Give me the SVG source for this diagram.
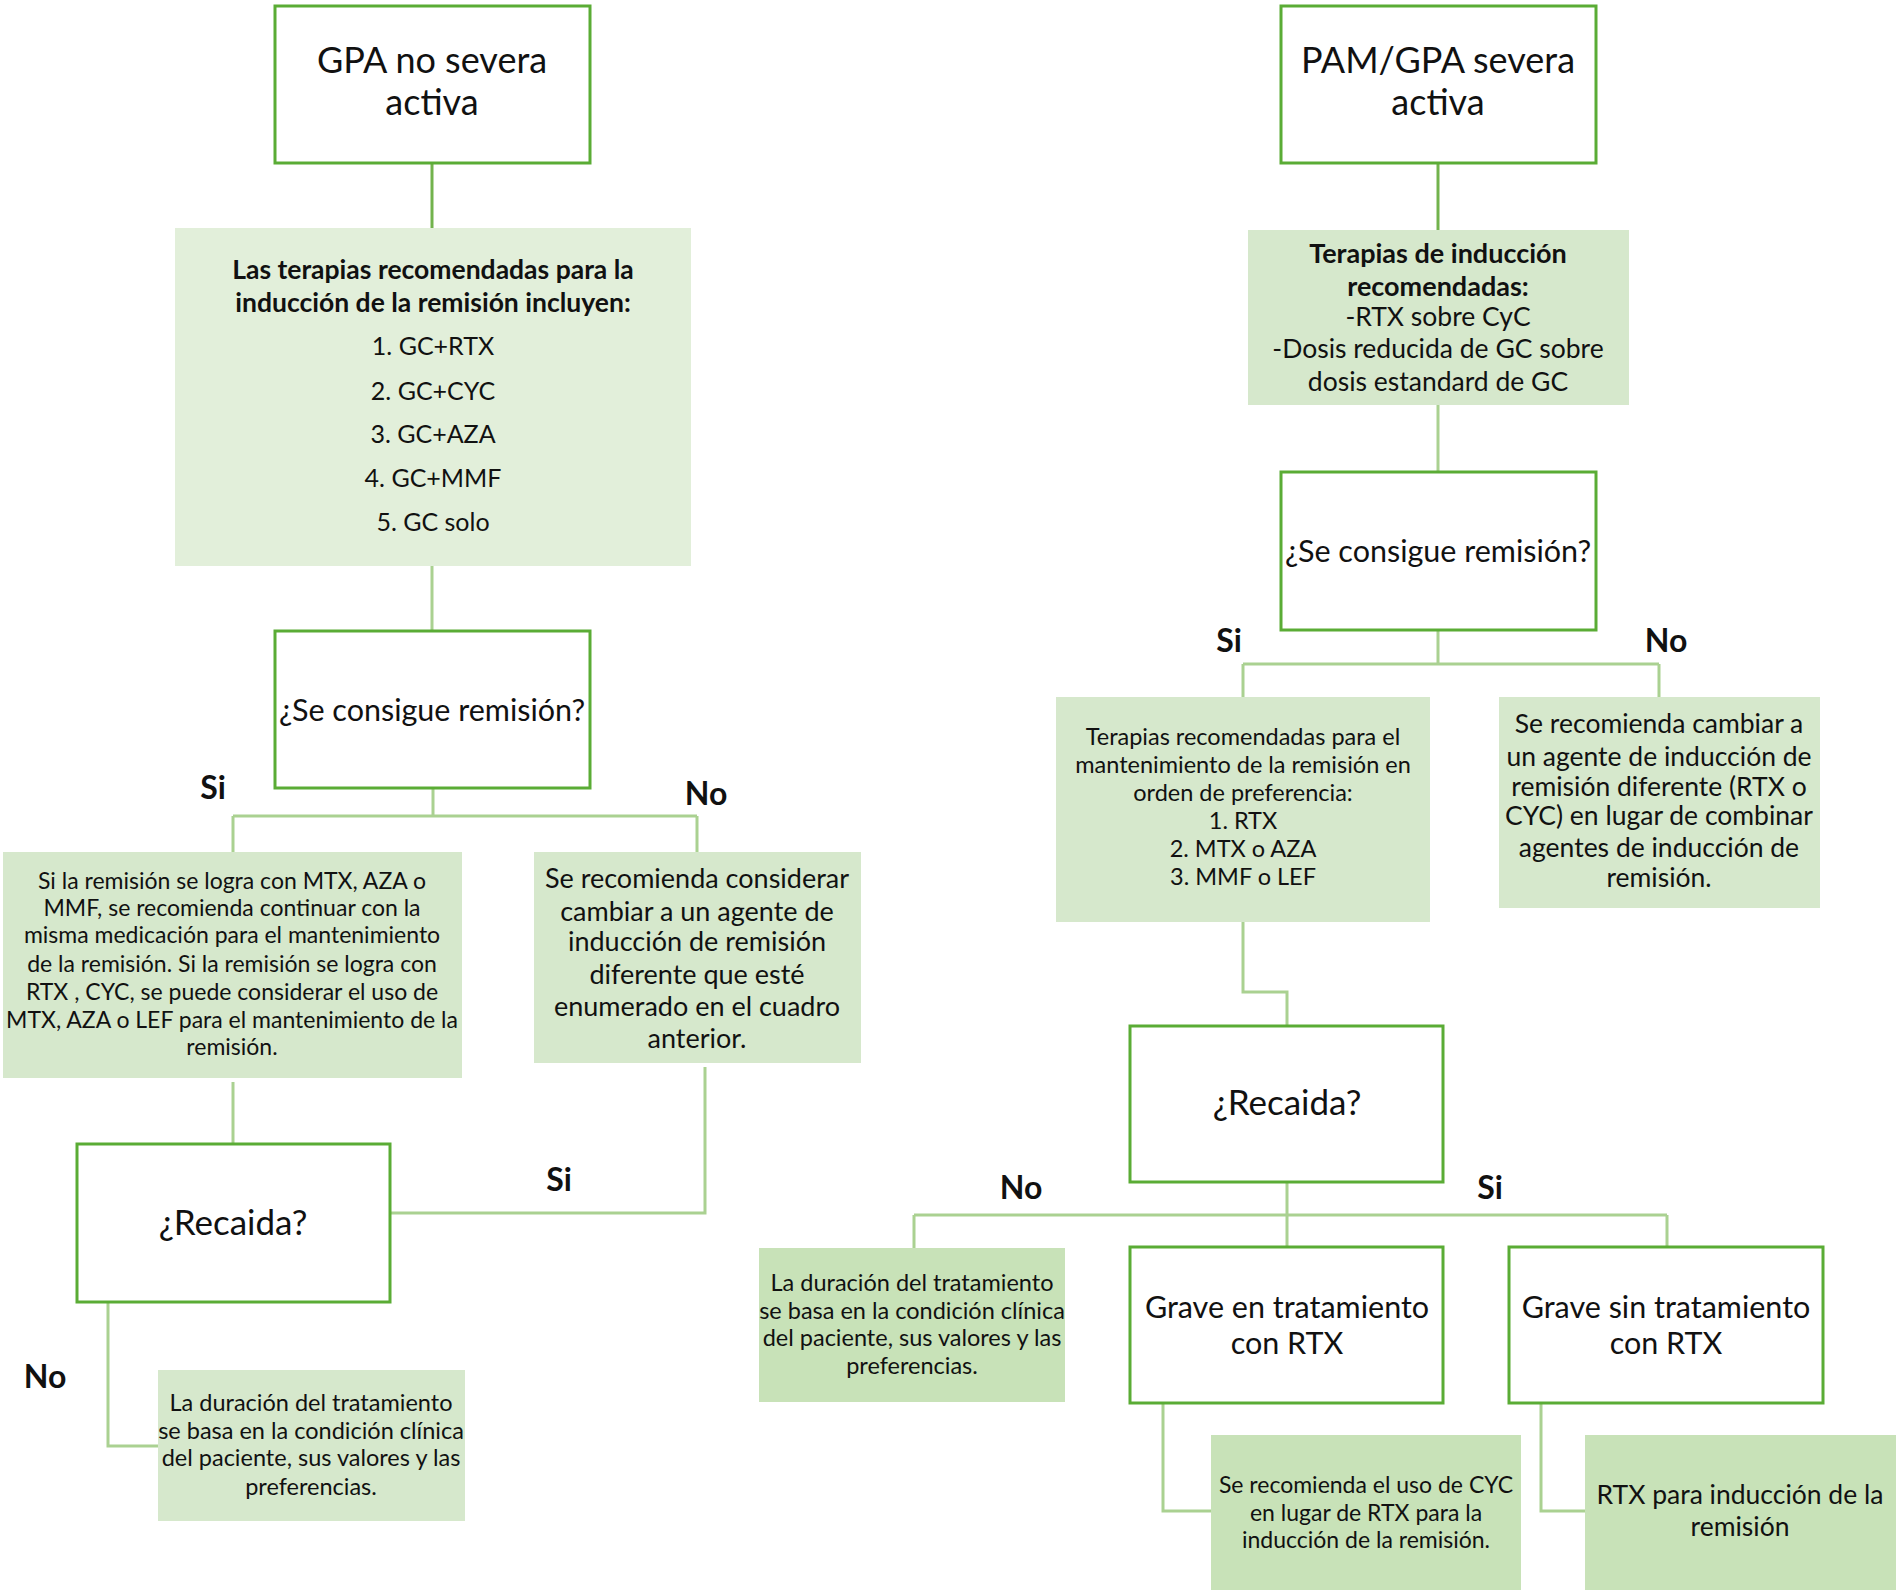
<svg xmlns="http://www.w3.org/2000/svg" width="1896" height="1590" viewBox="0 0 1896 1590">
<style>
text{font-family:Lato,"Liberation Sans",sans-serif;fill:#111;text-anchor:middle}
.wb{fill:#fff;stroke:#5aac35;stroke-width:3}
.g1{fill:#e2efda}
.g2{fill:#d6e8cc}
.g3{fill:#c8e2b8}
.c{fill:none;stroke:#aad191;stroke-width:3}
.cd{fill:none;stroke:#72b34d;stroke-width:3}
.t36{font-size:36px}
.t35{font-size:35px}
.t30{font-size:30.5px}
.t27{font-size:27px}
.t26{font-size:26.5px}
.t25{font-size:25px}
.t23{font-size:23.5px}
.t22{font-size:23px}
.b{font-weight:bold}
.lab{font-size:32px;font-weight:bold}
</style>
<rect width="1896" height="1590" fill="#fff"/>
<g id="connectors">
<path class="cd" d="M432,163V228"/>
<path class="c" d="M432,566V631"/>
<path class="c" d="M433,788V816M233,816H697M233,816V852M697,816V852"/>
<path class="c" d="M705,1067V1213H390"/>
<path class="c" d="M233,1082V1144"/>
<path class="c" d="M108,1302V1446H158"/>
<path class="cd" d="M1438,163V230"/>
<path class="c" d="M1438,405V472"/>
<path class="c" d="M1438,630V664M1243,664H1659M1243,664V697M1659,664V697"/>
<path class="c" d="M1243,922V992H1287V1026"/>
<path class="c" d="M1287,1182V1215M914,1215H1667M914,1215V1248M1287,1215V1247M1667,1215V1247"/>
<path class="c" d="M1163,1403V1511H1211"/>
<path class="c" d="M1541,1403V1511H1585"/>
</g>
<g id="labels">
<text class="lab" x="213" y="799">Si</text>
<text class="lab" x="706" y="805">No</text>
<text class="lab" x="559" y="1191">Si</text>
<text class="lab" x="45" y="1388">No</text>
<text class="lab" x="1229" y="652">Si</text>
<text class="lab" x="1666" y="652">No</text>
<text class="lab" x="1021" y="1199">No</text>
<text class="lab" x="1490" y="1199">Si</text>
</g>
<g id="n_gpa">
<rect class="wb" x="275" y="6" width="315" height="157"/>
<text class="t36" x="432" y="73">GPA no severa</text>
<text class="t36" x="432" y="115">activa</text>
</g>
<g id="n_induccion_izq">
<rect class="g1" x="175" y="228" width="516" height="338"/>
<text class="t26 b" x="433" y="279">Las terapias recomendadas para la</text>
<text class="t26 b" x="433" y="312">inducción de la remisión incluyen:</text>
<text class="t25" x="433" y="355">1. GC+RTX</text>
<text class="t25" x="433" y="400">2. GC+CYC</text>
<text class="t25" x="433" y="443">3. GC+AZA</text>
<text class="t25" x="433" y="487">4. GC+MMF</text>
<text class="t25" x="433" y="531">5. GC solo</text>
</g>
<g id="n_remision_izq">
<rect class="wb" x="275" y="631" width="315" height="157"/>
<text class="t30" x="432" y="721">¿Se consigue remisión?</text>
</g>
<g id="n_mant_izq">
<rect class="g2" x="3" y="852" width="459" height="226"/>
<text class="t22" x="232" y="889">Si la remisión se logra con MTX, AZA  o</text>
<text class="t22" x="232" y="916">MMF, se recomienda continuar con la</text>
<text class="t22" x="232" y="943">misma medicación para el mantenimiento</text>
<text class="t22" x="232" y="972">de la remisión. Si la remisión se logra con</text>
<text class="t22" x="232" y="1000">RTX , CYC, se puede considerar el uso de</text>
<text class="t22" x="232" y="1028">MTX, AZA o LEF para el mantenimiento de la</text>
<text class="t22" x="232" y="1055">remisión.</text>
</g>
<g id="n_cambiar_izq">
<rect class="g2" x="534" y="852" width="327" height="211"/>
<text class="t27" x="697" y="888">Se recomienda considerar</text>
<text class="t27" x="697" y="921">cambiar a un agente de</text>
<text class="t27" x="697" y="951">inducción de remisión</text>
<text class="t27" x="697" y="984">diferente que esté</text>
<text class="t27" x="697" y="1016">enumerado en el cuadro</text>
<text class="t27" x="697" y="1048">anterior.</text>
</g>
<g id="n_recaida_izq">
<rect class="wb" x="77" y="1144" width="313" height="158"/>
<text class="t35" x="233" y="1235">¿Recaida?</text>
</g>
<g id="n_duracion_izq">
<rect class="g2" x="158" y="1370" width="307" height="151"/>
<text class="t23" x="311" y="1411">La duración del tratamiento</text>
<text class="t23" x="311" y="1439">se basa en la condición clínica</text>
<text class="t23" x="311" y="1466">del paciente, sus valores y las</text>
<text class="t23" x="311" y="1495">preferencias.</text>
</g>
<g id="n_pam">
<rect class="wb" x="1281" y="6" width="315" height="157"/>
<text class="t36" x="1438" y="73">PAM/GPA severa</text>
<text class="t36" x="1438" y="115">activa</text>
</g>
<g id="n_induccion_der">
<rect class="g2" x="1248" y="230" width="381" height="175"/>
<text class="t27 b" x="1438" y="263">Terapias de inducción</text>
<text class="t27 b" x="1438" y="296">recomendadas:</text>
<text class="t26" x="1438" y="326">-RTX sobre CyC</text>
<text class="t26" x="1438" y="358">-Dosis reducida de GC sobre</text>
<text class="t26" x="1438" y="391">dosis estandard de GC</text>
</g>
<g id="n_remision_der">
<rect class="wb" x="1281" y="472" width="315" height="158"/>
<text class="t30" x="1438" y="562">¿Se consigue remisión?</text>
</g>
<g id="n_mant_der">
<rect class="g2" x="1056" y="697" width="374" height="225"/>
<text class="t23" x="1243" y="745">Terapias recomendadas para el</text>
<text class="t23" x="1243" y="773">mantenimiento de la remisión en</text>
<text class="t23" x="1243" y="801">orden de preferencia:</text>
<text class="t23" x="1243" y="829">1. RTX</text>
<text class="t23" x="1243" y="857">2. MTX o AZA</text>
<text class="t23" x="1243" y="885">3. MMF o LEF</text>
</g>
<g id="n_cambiar_der">
<rect class="g2" x="1499" y="697" width="321" height="211"/>
<text class="t26" x="1659" y="733">Se recomienda cambiar a</text>
<text class="t26" x="1659" y="766">un agente de inducción de</text>
<text class="t26" x="1659" y="796">remisión diferente (RTX o</text>
<text class="t26" x="1659" y="825">CYC) en lugar de combinar</text>
<text class="t26" x="1659" y="857">agentes de inducción de</text>
<text class="t26" x="1659" y="887">remisión.</text>
</g>
<g id="n_recaida_der">
<rect class="wb" x="1130" y="1026" width="313" height="156"/>
<text class="t35" x="1287" y="1115">¿Recaida?</text>
</g>
<g id="n_duracion_der">
<rect class="g3" x="759" y="1248" width="306" height="154"/>
<text class="t23" x="912" y="1291">La duración del tratamiento</text>
<text class="t23" x="912" y="1319">se basa en la condición clínica</text>
<text class="t23" x="912" y="1346">del paciente, sus valores y las</text>
<text class="t23" x="912" y="1374">preferencias.</text>
</g>
<g id="n_grave_en">
<rect class="wb" x="1130" y="1247" width="313" height="156"/>
<text class="t30" x="1287" y="1318">Grave en tratamiento</text>
<text class="t30" x="1287" y="1354">con RTX</text>
</g>
<g id="n_grave_sin">
<rect class="wb" x="1509" y="1247" width="314" height="156"/>
<text class="t30" x="1666" y="1318">Grave sin tratamiento</text>
<text class="t30" x="1666" y="1354">con RTX</text>
</g>
<g id="n_cyc">
<rect class="g3" x="1211" y="1435" width="310" height="155"/>
<text class="t22" x="1366" y="1493">Se recomienda el uso de CYC</text>
<text class="t22" x="1366" y="1521">en lugar de RTX para la</text>
<text class="t22" x="1366" y="1548">inducción de la remisión.</text>
</g>
<g id="n_rtx">
<rect class="g3" x="1585" y="1435" width="311" height="155"/>
<text class="t26" x="1740" y="1504">RTX para inducción de la</text>
<text class="t26" x="1740" y="1536">remisión</text>
</g>
</svg>
